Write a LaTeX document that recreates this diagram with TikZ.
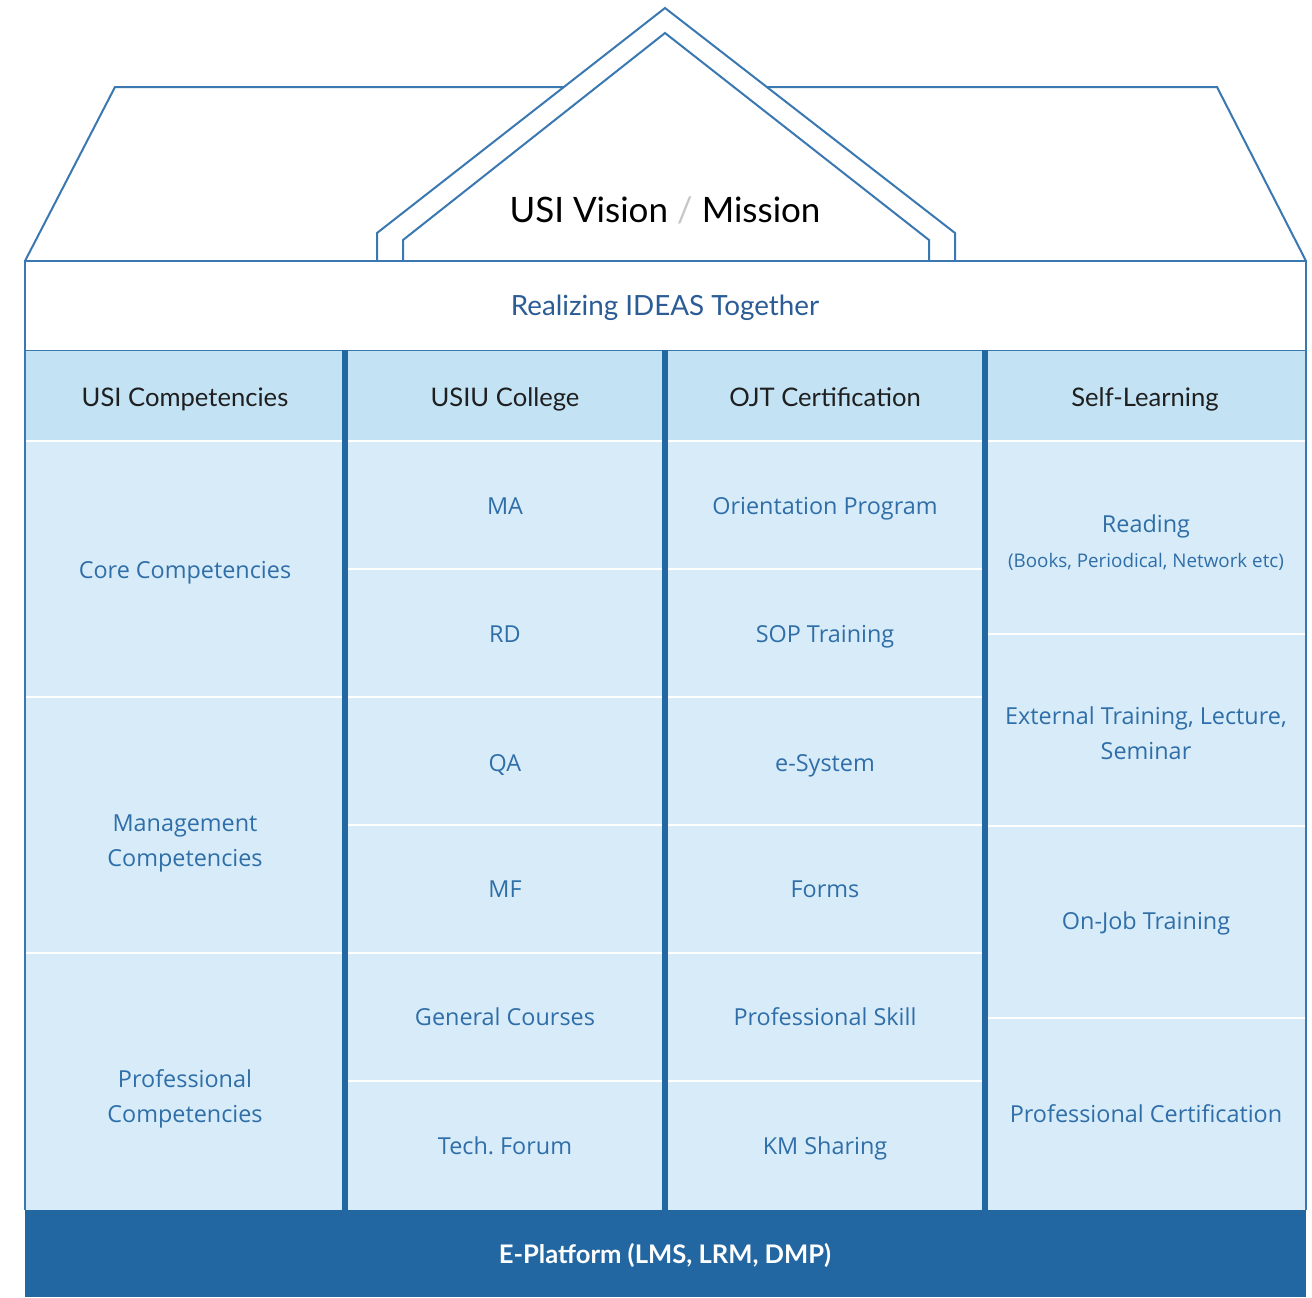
\documentclass[tikz,border=0pt]{standalone}
\usepackage{fontspec}
\setmainfont{Lato}
\newfontfamily\cellfont{Open Sans}
\usetikzlibrary{positioning}
\frenchspacing

\definecolor{roofblue}{HTML}{3A78B2}
\definecolor{pillarblue}{HTML}{2367A2}
\definecolor{headfill}{HTML}{C3E3F5}
\definecolor{bodyfill}{HTML}{D7ECF8}
\definecolor{celltext}{HTML}{2F6EA8}
\definecolor{mottotext}{HTML}{2B5C96}

\begin{document}
\begin{tikzpicture}[x=0.5pt,y=-0.5pt,
	roofline/.style={draw=roofblue,line width=1pt,line join=miter},
	pillar/.style={draw=pillarblue,line width=3pt},
	rowsep/.style={draw=white,line width=1pt},
	colhead/.style={font=\fontsize{12.8}{15}\selectfont,text=black!88,text height=9.2pt,text depth=0pt},
	cellbase/.style={font=\cellfont\fontsize{11.7}{17.5}\selectfont,text=celltext,align=center,inner sep=0pt},
	celltxt/.style={cellbase,text height=8.4pt,text depth=0pt}]
	
	\useasboundingbox (0,0) rectangle (1312,1297);
	
	%%%%%%%%%%%%%%%%%%%%%%%%%%%%%%%%%%%%%%%%%%%%%%%%%%%%%%
	% roof
	
	\filldraw [roofline,fill=white] (25,261) -- (115,87) -- (1217,87) -- (1306,261);
	\filldraw [roofline,fill=white] (377,261) -- (377,233) -- (665,8) -- (955,233) -- (955,261);
	\draw [roofline] (403,261) -- (403,240) -- (665,33) -- (929,240) -- (929,261);
	
	\node (vision) at (665,210) {\fontsize{17.5}{21}\selectfont USI Vision {\color{black!22}/} Mission};
	
	%%%%%%%%%%%%%%%%%%%%%%%%%%%%%%%%%%%%%%%%%%%%%%%%%%%%%%
	% banner
	
	\filldraw [roofline,fill=white] (25,261) rectangle (1306,351);
	\node [text=mottotext,font=\fontsize{13.9}{17}\selectfont] (motto) at (665,308) {Realizing IDEAS Together};
	
	%%%%%%%%%%%%%%%%%%%%%%%%%%%%%%%%%%%%%%%%%%%%%%%%%%%%%%
	% pillars
	
	\fill [headfill] (25,351) rectangle (1306,441);
	\fill [bodyfill] (25,441) rectangle (1306,1210);
	\draw [rowsep] (25,441) -- (1306,441);
	\foreach \y in {697,953}
		\draw [rowsep] (25,\y) -- (345,\y);
	\foreach \y in {569,697,825,953,1081}
		\draw [rowsep] (345,\y) -- (985,\y);
	\foreach \y in {634,826,1018}
		\draw [rowsep] (985,\y) -- (1306,\y);
	
	\draw [roofblue,line width=0.8pt] (25,351) -- (25,1210);
	\draw [roofblue,line width=0.8pt] (1306,351) -- (1306,1210);
	\foreach \x in {345,665,985}
		\draw [pillar] (\x,350) -- (\x,1210);
	
	\node [colhead] (head-usi) at (185,397) {USI Competencies};
	\node [colhead] (head-usiu) at (505,397) {USIU College};
	\node [colhead] (head-ojt) at (825,397) {OJT Certification};
	\node [colhead] (head-self) at (1145,397) {Self-Learning};
	
	\node [celltxt] (core) at (185,570) {Core Competencies};
	\node [cellbase] (mgmt) at (185,843) {Management\\Competencies};
	\node [cellbase] (prof) at (185,1099) {Professional\\Competencies};
	
	\foreach \y/\name/\txt in {506/ma/MA,634/rd/RD,763/qa/QA,889/mf/MF,1017/general/General Courses,1146/forum/Tech. Forum}
		\node [celltxt] (\name) at (505,\y) {\txt};
	
	\foreach \y/\name/\txt in {506/orient/Orientation Program,634/sop/SOP Training,763/esys/e-System,889/forms/Forms,1017/skill/Professional Skill,1146/km/KM Sharing}
		\node [celltxt] (\name) at (825,\y) {\txt};
	
	\node [celltxt] (reading) at (1146,524) {Reading};
	\node [cellbase,font=\cellfont\fontsize{9.4}{11}\selectfont,text height=7pt,text depth=2pt,below=10pt of reading] (books) {(Books, Periodical, Network etc)};
	\node [cellbase] (external) at (1146,733) {External Training, Lecture,\\Seminar};
	\node [celltxt] (onjob) at (1146,921) {On-Job Training};
	\node [celltxt] (certif) at (1146,1114) {Professional Certification};
	
	%%%%%%%%%%%%%%%%%%%%%%%%%%%%%%%%%%%%%%%%%%%%%%%%%%%%%%
	% base
	
	\fill [pillarblue] (25,1210) rectangle (1306,1297);
	\node [text=white,font=\bfseries\fontsize{12.8}{15}\selectfont] (platform) at (665,1255) {E-Platform (LMS, LRM, DMP)};
	
\end{tikzpicture}
\end{document}
